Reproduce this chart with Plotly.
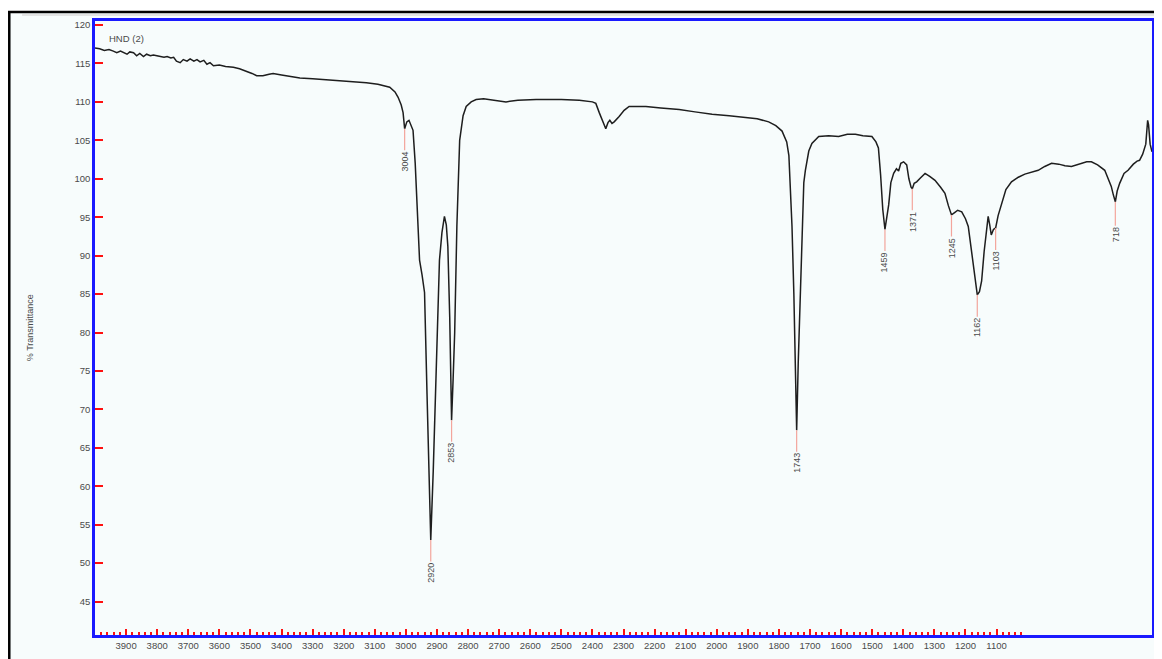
import plotly.graph_objects as go

# ---------------- data ----------------
wavenumber = [
    4000, 3985, 3970, 3955, 3941, 3930, 3918, 3905, 3897, 3888, 3876, 3866, 3856, 3844, 3834,
    3822, 3812, 3801, 3790, 3778, 3768, 3756, 3747, 3738, 3726, 3716, 3704, 3694, 3682, 3672,
    3662, 3650, 3640, 3630, 3619, 3600, 3580, 3555, 3535, 3512, 3495, 3480, 3460, 3440, 3427,
    3400, 3370, 3341, 3300, 3260, 3234, 3180, 3127, 3090, 3052, 3035, 3025, 3015, 3009, 3004,
    2997, 2990, 2984, 2977, 2970, 2963, 2956, 2948, 2940, 2932, 2925, 2920, 2912, 2902, 2892,
    2884, 2876, 2870, 2865, 2859, 2853, 2848, 2843, 2836, 2827, 2816, 2806, 2790, 2774, 2750,
    2731, 2710, 2678, 2640, 2600, 2581, 2500, 2442, 2400, 2389, 2378, 2367, 2357, 2350, 2344,
    2337, 2330, 2314, 2298, 2282, 2228, 2180, 2121, 2070, 2015, 1960, 1907, 1870, 1833, 1810,
    1790, 1775, 1768, 1762, 1758, 1752, 1747, 1743, 1738, 1731, 1726, 1720, 1715, 1704, 1694,
    1672, 1640, 1608, 1580, 1554, 1530, 1501, 1488, 1480, 1473, 1466, 1459, 1452, 1447, 1440,
    1431, 1422, 1415, 1408, 1399, 1389, 1382, 1375, 1371, 1365, 1357, 1345, 1330, 1315, 1298,
    1280, 1266, 1255, 1245, 1235, 1225, 1212, 1200, 1191, 1180, 1169, 1162, 1155, 1148, 1140,
    1132, 1127, 1122, 1117, 1110, 1103, 1095, 1084, 1070, 1052, 1030, 1009, 990, 966, 945,
    923, 900, 880, 859, 830, 810, 795, 775, 752, 740, 731, 725, 718, 712, 704,
    690, 677, 660, 648, 640, 630, 620, 614, 611, 606, 600,
]
transmittance = [
    117.0, 116.9, 116.7, 116.8, 116.6, 116.4, 116.6, 116.3, 116.2, 116.5, 116.4, 116.0, 116.3, 115.9, 116.2,
    116.0, 116.1, 116.0, 115.9, 115.8, 115.9, 115.7, 115.8, 115.3, 115.1, 115.5, 115.3, 115.6, 115.3, 115.5,
    115.2, 115.4, 114.9, 115.1, 114.7, 114.8, 114.6, 114.5, 114.3, 114.0, 113.7, 113.4, 113.4, 113.6, 113.7,
    113.5, 113.3, 113.1, 113.0, 112.9, 112.8, 112.7, 112.5, 112.3, 111.9, 111.3, 110.6, 109.6, 108.6, 106.5,
    107.4, 107.6, 107.0, 106.3, 102.0, 96.0, 89.4, 87.5, 85.2, 72.0, 60.0, 53.0, 62.0, 76.4, 89.4,
    93.0, 95.1, 94.0, 91.2, 82.0, 68.6, 74.0, 80.0, 93.8, 105.0, 108.2, 109.4, 110.0, 110.3, 110.4,
    110.3, 110.1, 110.0, 110.2, 110.3, 110.3, 110.3, 110.2, 110.0, 109.8, 108.6, 107.6, 106.5, 107.3, 107.6,
    107.2, 107.4, 108.1, 108.9, 109.4, 109.4, 109.2, 109.0, 108.7, 108.4, 108.2, 108.0, 107.8, 107.4, 106.9,
    106.2, 104.8, 103.0, 97.0, 93.8, 85.0, 77.0, 67.3, 76.0, 85.0, 93.8, 99.5, 101.1, 103.6, 104.6,
    105.5, 105.6, 105.5, 105.8, 105.8, 105.6, 105.5, 104.8, 104.0, 100.5, 96.0, 93.4, 95.5, 96.6, 99.5,
    100.7, 101.3, 101.0, 102.0, 102.2, 101.8, 100.0, 98.9, 98.7, 99.4, 99.6, 100.1, 100.7, 100.3, 99.8,
    98.9, 98.1, 96.5, 95.3, 95.6, 95.9, 95.7, 94.8, 93.8, 90.5, 87.0, 84.9, 85.3, 86.7, 90.5,
    92.9, 95.1, 94.0, 92.7, 93.4, 93.6, 95.2, 96.8, 98.6, 99.6, 100.2, 100.6, 100.8, 101.1, 101.6,
    102.0, 101.9, 101.7, 101.6, 101.9, 102.2, 102.2, 101.8, 101.1, 100.0, 99.0, 98.0, 97.0, 98.4, 99.4,
    100.7, 101.1, 101.9, 102.3, 102.4, 103.2, 104.5, 107.6, 107.0, 104.5, 103.5,
]

peak_wn = [3004, 2920, 2853, 1743, 1459, 1371, 1245, 1162, 1103, 718]
peak_t = [106.5, 53.0, 68.6, 67.3, 93.4, 98.7, 95.3, 84.9, 93.6, 97.0]
peak_labels = ["3004", "2920", "2853", "1743", "1459", "1371", "1245", "1162", "1103", "718"]

x_tick_vals = list(range(3900, 1000, -100))
x_tick_text = [str(v) for v in x_tick_vals]
x_minor_vals = list(range(4000, 1000, -20))
y_tick_vals = list(range(45, 125, 5))

sample_name = "HND (2)"
y_title = "% Transmittance"

# ---------------- figure ----------------
BG = "#f7fcfc"
TXT = "#4a4a4a"
FONT = "Liberation Sans, Arial, sans-serif"

fig = go.Figure()
fig.add_trace(go.Scatter(
    x=wavenumber, y=transmittance, mode="lines",
    line=dict(color="#1e1e1e", width=1.5),
    hoverinfo="skip", showlegend=False,
))

for wn, t, lab in zip(peak_wn, peak_t, peak_labels):
    fig.add_annotation(
        x=wn, y=t, xref="x", yref="y", text=lab, textangle=-90,
        showarrow=True, arrowhead=0, arrowwidth=1.2, arrowcolor="#f3a59c",
        ax=0, ay=33, standoff=0, startstandoff=0,
        font=dict(family=FONT, size=9, color=TXT),
    )

fig.add_annotation(
    x=0.0113, y=0.972, xref="paper", yref="paper", xanchor="left", yanchor="middle",
    text=sample_name, showarrow=False, font=dict(family=FONT, size=9.5, color=TXT),
)
fig.add_annotation(
    x=-0.0613, y=0.5, xref="paper", yref="paper", xanchor="center", yanchor="middle",
    text=y_title, textangle=-90, showarrow=False, font=dict(family=FONT, size=9, color=TXT),
)

# outer frame
fig.add_shape(type="rect", xref="paper", yref="paper", x0=-0.0811, x1=1.2, y0=-0.2, y1=1.0147,
              line=dict(color="black", width=2.5), fillcolor=BG, layer="below")
fig.add_shape(type="line", xref="paper", yref="paper", x0=-0.069, x1=1.2, y0=1.0098, y1=1.0098,
              line=dict(color="#dcdcdc", width=1.5), layer="below")

fig.update_xaxes(
    range=[4000, 600], showgrid=False, zeroline=False,
    showline=True, mirror=True, linecolor="#1a1aff", linewidth=2.5,
    tickmode="array", tickvals=x_tick_vals, ticktext=x_tick_text,
    ticks="inside", ticklen=6, tickwidth=1.5, tickcolor="#ff1010",
    tickfont=dict(family=FONT, size=9.5, color=TXT),
    minor=dict(tickmode="array", tickvals=x_minor_vals, ticks="inside",
               ticklen=3, tickwidth=1.5, tickcolor="#ff1010", showgrid=False),
)
fig.update_yaxes(
    range=[40.65, 120.52], showgrid=False, zeroline=False,
    showline=True, mirror=True, linecolor="#1a1aff", linewidth=2.5,
    tickmode="array", tickvals=y_tick_vals,
    ticks="inside", ticklen=8, tickwidth=1.5, tickcolor="#ff1010",
    tickfont=dict(family=FONT, size=9.5, color=TXT),
)

# the page body has an 8px margin, so the figure is offset by 8px
fig.update_layout(
    width=1154, height=651,
    margin=dict(l=87, r=7, t=13, b=24, pad=0),
    paper_bgcolor="white", plot_bgcolor=BG,
    showlegend=False,
)

fig.write_html("out.html", config={"displayModeBar": False})
